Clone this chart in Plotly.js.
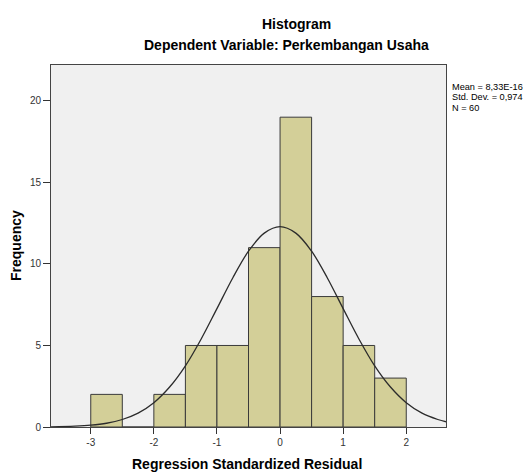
<!DOCTYPE html>
<html>
<head>
<meta charset="utf-8">
<script src="https://cdn.plot.ly/plotly-3.0.1.min.js"></script>
<style>html,body{margin:0;padding:0;background:#fff;}#chart{width:529px;height:472px;}</style>
</head>
<body>
<div id="chart"></div>
<script>
// Histogram bins (centres, width 0.5) and frequencies
const binCenters = [-2.75, -2.25, -1.75, -1.25, -0.75, -0.25, 0.25, 0.75, 1.25, 1.75];
const frequencies = [2, 0, 2, 5, 5, 11, 19, 8, 5, 3];
const binWidth = 0.5;

// Normal curve
const curveX = [-3.63, -3.25, -3.0, -2.75, -2.5, -2.25, -2.0, -1.75, -1.5, -1.25, -1.0, -0.75, -0.5, -0.25, 0.0, 0.25, 0.5, 0.75, 1.0, 1.25, 1.5, 1.75, 2.0, 2.25, 2.5, 2.63];
const curveY = [0.01, 0.05, 0.11, 0.23, 0.46, 0.85, 1.49, 2.45, 3.75, 5.40, 7.26, 9.14, 10.78, 11.89, 12.29, 11.89, 10.78, 9.14, 7.26, 5.40, 3.75, 2.45, 1.49, 0.85, 0.46, 0.32];

const xTicks = [-3, -2, -1, 0, 1, 2];
const yTicks = [0, 5, 10, 15, 20];
const statsLines = ["Mean = 8,33E-16", "Std. Dev. = 0,974", "N = 60"];

const font = "Liberation Sans, Arial, sans-serif";

// pixel helpers for annotation placement (plot area 51..446 x 65..427)
const px = v => (v - 51) / 395;
const py = v => (427 - v) / 362;

const traces = [
  {
    type: "bar",
    x: binCenters,
    y: frequencies,
    width: binCenters.map(() => binWidth),
    marker: { color: "#d3cf98", line: { color: "#3a3a3a", width: 1 } },
    hoverinfo: "x+y"
  },
  {
    type: "scatter",
    mode: "lines",
    x: curveX,
    y: curveY,
    line: { color: "#2b2b2b", width: 1.3, shape: "spline" },
    hoverinfo: "skip"
  }
];

const layout = {
  width: 529, height: 472,
  margin: { l: 51, r: 83, t: 65, b: 45 },
  paper_bgcolor: "#ffffff",
  plot_bgcolor: "#f0f0f0",
  showlegend: false,
  bargap: 0,
  font: { family: font, size: 10, color: "#333" },
  xaxis: {
    range: [-3.63, 2.63],
    tickvals: xTicks,
    ticktext: xTicks.map(String),
    ticks: "outside", ticklen: 6, tickcolor: "#333", tickwidth: 1,
    showgrid: false, zeroline: false,
    showline: true, mirror: true, linecolor: "#444", linewidth: 1,
    tickfont: { family: font, size: 10, color: "#333" }
  },
  yaxis: {
    range: [0, 22.2],
    tickvals: yTicks,
    ticktext: yTicks.map(String),
    ticks: "outside", ticklen: 7, tickcolor: "#333", tickwidth: 1,
    showgrid: false, zeroline: false,
    showline: true, mirror: true, linecolor: "#444", linewidth: 1,
    tickfont: { family: font, size: 10, color: "#333" }
  },
  annotations: [
    { text: "<b>Histogram</b>", xref: "paper", yref: "paper", x: px(296), y: py(23.5),
      showarrow: false, xanchor: "center", yanchor: "middle", font: { family: font, size: 14, color: "#000" } },
    { text: "<b>Dependent Variable: Perkembangan Usaha</b>", xref: "paper", yref: "paper", x: px(286), y: py(45),
      showarrow: false, xanchor: "center", yanchor: "middle", font: { family: font, size: 14, color: "#000" } },
    { text: "<b>Frequency</b>", xref: "paper", yref: "paper", x: px(16), y: py(246), textangle: -90,
      showarrow: false, xanchor: "center", yanchor: "middle", font: { family: font, size: 14, color: "#000" } },
    { text: "<b>Regression Standardized Residual</b>", xref: "paper", yref: "paper", x: px(247), y: py(464),
      showarrow: false, xanchor: "center", yanchor: "middle", font: { family: font, size: 14, color: "#000" } },
    { text: statsLines.join("<br>"), xref: "paper", yref: "paper", x: px(451), y: py(80.5),
      showarrow: false, xanchor: "left", yanchor: "top", align: "left", borderpad: 0,
      font: { family: font, size: 9.2, color: "#000" } }
  ]
};

Plotly.newPlot("chart", traces, layout, { displayModeBar: false, staticPlot: true }).then(gd => {
  // tighten the line spacing of the statistics block towards the reference
  gd.querySelectorAll(".annotation-text").forEach(txt => {
    const lines = txt.querySelectorAll("tspan.line");
    if (lines.length === statsLines.length) {
      lines.forEach((t, i) => t.setAttribute("dy", (i * 1.13) + "em"));
    }
  });
});
</script>
</body>
</html>
